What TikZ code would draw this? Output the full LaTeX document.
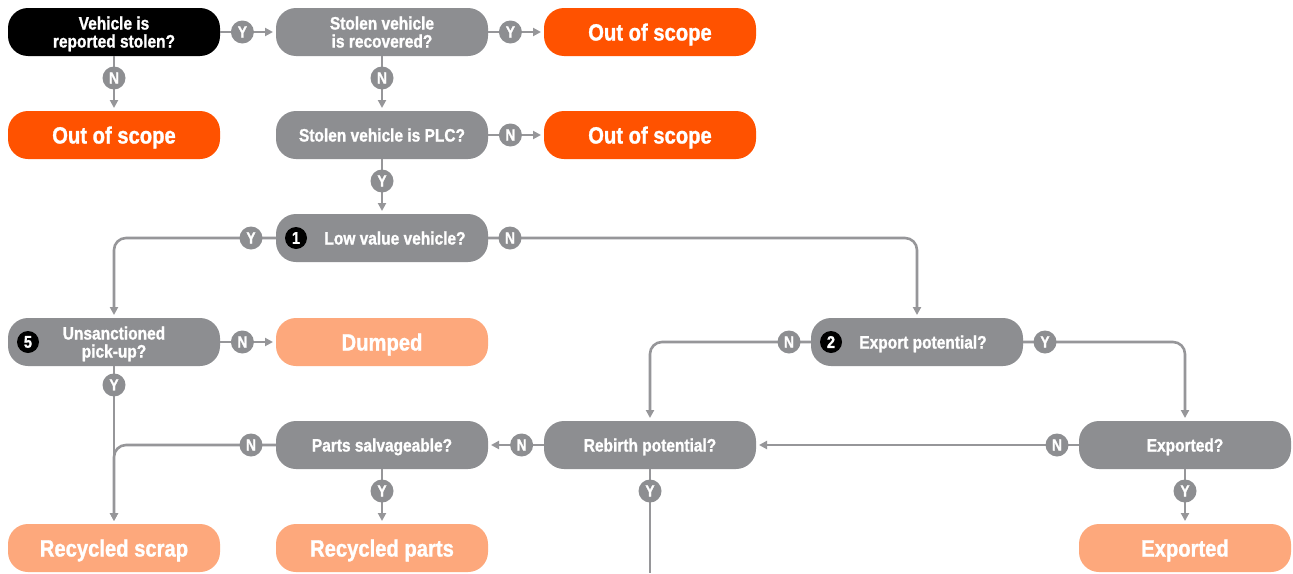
\documentclass[tikz,border=0pt]{standalone}
\usepackage{fontspec}
\setmainfont{Liberation Sans}[FakeStretch=0.86, BoldFeatures={FakeBold=1.2}]
\usepackage{tikz}
\usetikzlibrary{arrows.meta, positioning}
\definecolor{boxgray}{RGB}{141,142,145}
\definecolor{linegray}{RGB}{150,150,153}
\definecolor{scopeorange}{RGB}{255,82,0}
\definecolor{endorange}{RGB}{253,168,124}

\begin{document}
\begin{tikzpicture}[
    x=1pt, y=1pt,
    node distance=55pt and 56pt,
    box/.style={rounded corners=20pt, minimum width=212pt, minimum height=48pt, inner sep=0pt, outer sep=0pt,
        text depth=0pt, align=center, text=white, font=\bfseries\fontsize{18}{18}\selectfont},
    question/.style={box, fill=boxgray},
    start/.style={box, fill=black},
    scope/.style={box, fill=scopeorange, font=\bfseries\fontsize{23.5}{24}\selectfont},
    outcome/.style={box, fill=endorange, font=\bfseries\fontsize{23.5}{24}\selectfont},
    badge/.style={circle, fill=black, text=white, minimum size=22pt, inner sep=0pt, font=\bfseries\fontsize{17}{17}\selectfont},
    answer/.style={circle, fill=boxgray, text=white, minimum size=23pt, inner sep=0pt, font=\bfseries\fontsize{16}{16}\selectfont},
    link/.style={draw=linegray, line width=2.6pt, rounded corners=12pt},
    arrow/.style={link, -{Triangle[length=8pt,width=8pt]}, shorten >=3pt}
]

\path[use as bounding box, fill=white] (0,0) rectangle (1293,-573);

% Nodes
\node[start] (stolen) at (114,-32) {Vehicle is\\reported stolen?};
\node[question] (recov) [right=of stolen] {Stolen vehicle\\is recovered?};
\node[scope] (oos1) [right=of recov] {Out of scope};
\node[scope] (oos2) [below=of stolen] {Out of scope};
\node[question] (plc) [below=of recov] {Stolen vehicle is PLC?};
\node[scope] (oos3) [right=of plc] {Out of scope};
\node[question] (lowval) [below=of plc] {\hspace*{26pt}Low value vehicle?};
\node[question] (unsanc) [below=159pt of oos2] {Unsanctioned\\pick-up?};
\node[outcome] (dumped) [right=of unsanc] {Dumped};
\node[question] (parts) [below=of dumped] {Parts salvageable?};
\node[question] (rebirth) [right=of parts] {Rebirth potential?};
\node[question] (exq) [right=323pt of rebirth] {Exported?};
\node[question] (export) [above left=of exq] {\hspace*{12pt}Export potential?};
\node[outcome] (scrap) [below left=of parts] {Recycled scrap};
\node[outcome] (rparts) [below=of parts] {Recycled parts};
\node[outcome] (expd) [below=of exq] {Exported};

% Badges
\node[badge] (b1) at ([xshift=20pt]lowval.west) {1};
\node[badge] (b2) at ([xshift=20pt]export.west) {2};
\node[badge] (b5) at ([xshift=20pt]unsanc.west) {5};

\coordinate (bottom) at (0,-573);
\coordinate (rebend) at (rebirth.south |- bottom);

% Arrows
\draw[arrow] (stolen) -- node[answer, pos=0.4] {Y} (recov);
\draw[arrow] (stolen) -- node[answer, pos=0.4] {N} (oos2);
\draw[arrow] (recov) -- node[answer, pos=0.4] {Y} (oos1);
\draw[arrow] (recov) -- node[answer, pos=0.4] {N} (plc);
\draw[arrow] (plc) -- node[answer, pos=0.4] {N} (oos3);
\draw[arrow] (plc) -- node[answer, pos=0.4] {Y} (lowval);
\draw[arrow] (lowval.west) -- ++(-25,0) node[answer] {Y} -| (unsanc.north);
\draw[arrow] (lowval.east) -- ++(22,0) node[answer] {N} -| (export.north);
\draw[arrow] (unsanc) -- node[answer, pos=0.4] {N} (dumped);
\draw[arrow] (unsanc) -- node[answer, pos=0.12] {Y} (scrap);
\draw[arrow] (export.west) -- ++(-22,0) node[answer] {N} -| (rebirth.north);
\draw[arrow] (export.east) -- ++(22,0) node[answer] {Y} -| (exq.north);
\draw[arrow] (exq.west) -- ++(-22,0) node[answer] {N} -- (rebirth.east);
\draw[arrow] (exq) -- node[answer, pos=0.4] {Y} (expd);
\draw[arrow] (rebirth) -- node[answer, pos=0.4] {N} (parts);
\draw[link] (rebirth.south) -- ++(0,-22) node[answer] {Y} -- (rebend);
\draw[arrow] (parts.west) -- ++(-25,0) node[answer] {N} -| (scrap.north);
\draw[arrow] (parts) -- node[answer, pos=0.4] {Y} (rparts);

\end{tikzpicture}
\end{document}
